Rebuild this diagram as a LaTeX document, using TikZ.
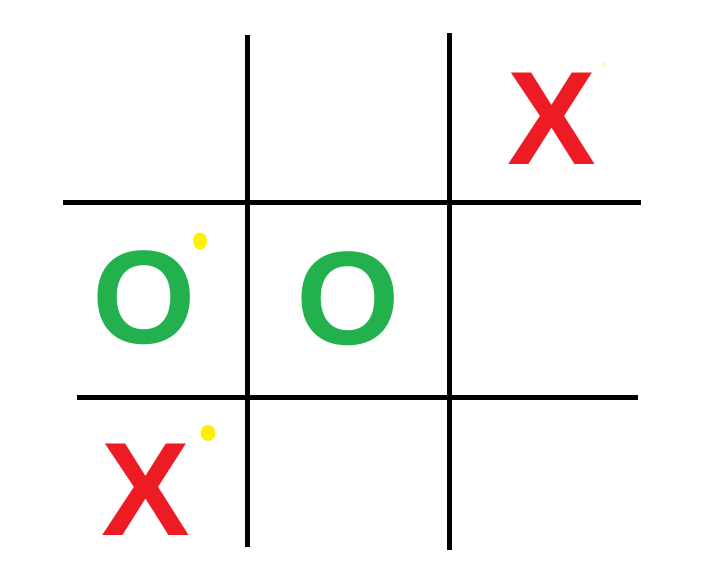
\documentclass[tikz,border=0pt]{standalone}
\usepackage{fontspec}
\setmainfont{Liberation Sans}
\usepackage{xcolor}
\usetikzlibrary{positioning}

\definecolor{paintred}{HTML}{ED1C24}
\definecolor{paintgreen}{HTML}{22B14C}
\definecolor{paintyellow}{HTML}{FFF200}

\begin{document}
\begin{tikzpicture}[
  x=1pt, y=-1pt,
  gridline/.style={line width=5pt, black},
  mark x/.style={inner sep=0pt, text=paintred,
                 font=\fontsize{133}{133}\selectfont\bfseries},
  mark o/.style={inner sep=0pt, text=paintgreen,
                 font=\fontsize{133}{133}\selectfont\bfseries},
  blot/.style={fill=paintyellow, draw=none}
]
\useasboundingbox (0,0) rectangle (714,576);

% Board lines
\draw[gridline] (247,35) -- (247,547);
\draw[gridline] (449,33) -- (449,550);
\draw[gridline] (63,202) -- (641,202);
\draw[gridline] (77,397) -- (638,397);

% Moves
\node[mark x] (xtop)  at (552,119) {X};
\node[mark o] (oleft) at (144,298) {O};
\node[mark o] (omid)  at (348,299) {O};
\node[mark x] (xbot)  at (146,490) {X};

% Yellow specks
\fill[blot] (200,241) ellipse (7 and 8.5);
\fill[blot] (208,433) ellipse (7.5 and 8);
\fill[blot] (603,64) circle (1.2);

\end{tikzpicture}
\end{document}
